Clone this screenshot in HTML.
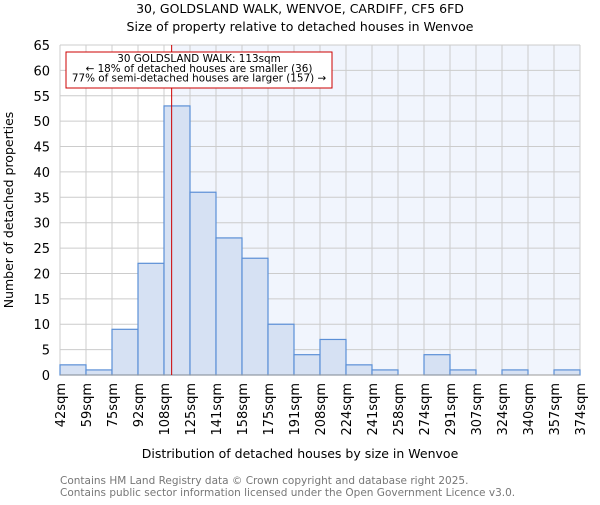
<!DOCTYPE html>
<html><head><meta charset="utf-8"><style>
body{margin:0;background:#fff;font-family:"Liberation Sans","DejaVu Sans",sans-serif;}
svg text{font-family:"DejaVu Sans","Liberation Sans",sans-serif;}
</style></head><body>
<svg id="chart" width="600" height="500">
<text x="300" y="13" font-size="12.5" text-anchor="middle">30, GOLDSLAND WALK, WENVOE, CARDIFF, CF5 6FD</text>
<text x="300" y="31" font-size="12.5" text-anchor="middle">Size of property relative to detached houses in Wenvoe</text>
<g id="plot"></g>
<text x="300" y="458" font-size="12.5" text-anchor="middle">Distribution of detached houses by size in Wenvoe</text>
<text transform="translate(13,210) rotate(-90)" font-size="12.5" text-anchor="middle">Number of detached properties</text>
<text x="60" y="484" font-size="10.5" fill="#777">Contains HM Land Registry data © Crown copyright and database right 2025.</text>
<text x="60" y="496" font-size="10.5" fill="#777">Contains public sector information licensed under the Open Government Licence v3.0.</text>
</svg>
<script>
const binLabels=["42sqm","59sqm","75sqm","92sqm","108sqm","125sqm","141sqm","158sqm","175sqm","191sqm","208sqm","224sqm","241sqm","258sqm","274sqm","291sqm","307sqm","324sqm","340sqm","357sqm","374sqm"];
const binEdges=[42,59,75,92,108,125,141,158,175,191,208,224,241,258,274,291,307,324,340,357,374];
const counts=[2,1,9,22,53,36,27,23,10,4,7,2,1,0,4,1,0,1,0,1];
const yTicks=[0,5,10,15,20,25,30,35,40,45,50,55,60,65];
const propertySize=113;
const X0=60,X1=580,Y0=375,Y1=45,YMAX=65;
const nb=counts.length,bw=(X1-X0)/nb;
const ys=v=>Y0-(v/YMAX)*(Y0-Y1);
function xs(v){let i=0;while(i<binEdges.length-2&&v>binEdges[i+1])i++;return X0+bw*(i+(v-binEdges[i])/(binEdges[i+1]-binEdges[i]));}
const NS="http://www.w3.org/2000/svg",g=document.getElementById('plot');
function mk(t,a,p){const e=document.createElementNS(NS,t);for(const k in a)e.setAttribute(k,a[k]);(p||g).appendChild(e);return e;}
const px=xs(propertySize);
let r=mk('rect',{x:px,y:Y1,width:X1-px,height:Y0-Y1,fill:'#f1f5fd'});


yTicks.forEach(t=>{const l=mk('line',{x1:X0,x2:X1,y1:ys(t),y2:ys(t),stroke:'#ccc','stroke-width':1});


const tx=mk('text',{x:X0-10,y:ys(t)+5,'font-size':13,'text-anchor':'end'});tx.textContent=t;

});
binLabels.forEach((lb,i)=>{const x=X0+i*bw;const l=mk('line',{x1:x,x2:x,y1:Y1,y2:Y0,stroke:'#ccc','stroke-width':1});


const tx=mk('text',{transform:`translate(${x+5},${Y0+8}) rotate(-90)`,'font-size':13,'text-anchor':'end'});tx.textContent=lb;

});
counts.forEach((c,i)=>{if(c<=0)return;const b=mk('rect',{x:X0+i*bw,y:ys(c),width:bw,height:Y0-ys(c),fill:'#d6e1f3',stroke:'#5b8fd6','stroke-width':1.2});

});
const ax=mk('line',{x1:X0,x2:X1,y1:Y0,y2:Y0,stroke:'#999'});


const pl=mk('line',{x1:px,x2:px,y1:Y1,y2:Y0,stroke:'#c00','stroke-width':1});


const box=mk('rect',{x:66,y:52,width:266,height:36,fill:'#fff',stroke:'#c00','stroke-width':1});


["30 GOLDSLAND WALK: 113sqm","← 18% of detached houses are smaller (36)","77% of semi-detached houses are larger (157) →"].forEach((s,i)=>{const t=mk('text',{x:199,y:62+i*9.8,'font-size':10.4,'text-anchor':'middle'});t.textContent=s;

});
</script>
</body></html>
